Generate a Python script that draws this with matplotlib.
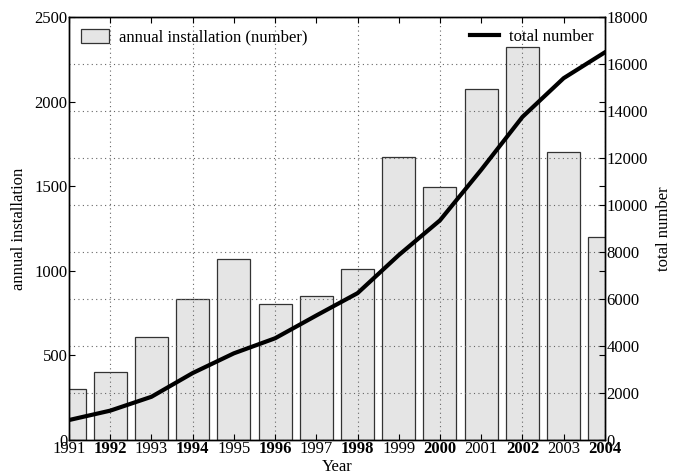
import numpy as np
import matplotlib
matplotlib.use("Agg")
import matplotlib.pyplot as plt

plt.rcParams["font.family"] = ["Liberation Serif", "DejaVu Serif"]
plt.rcParams["font.size"] = 12

years = np.arange(1991, 2005)
annual = [300, 400, 610, 835, 1070, 805, 850, 1010, 1675, 1495, 2075, 2325, 1700, 1200]
total = [850, 1250, 1840, 2850, 3690, 4330, 5300, 6250, 7870, 9350, 11500, 13750, 15400, 16500]

fig = plt.figure(figsize=(6.8, 4.76), dpi=100)
ax = fig.add_axes([0.1015, 0.0756, 0.788, 0.8885])
ax2 = ax.twinx()

ax.bar(years, annual, width=0.8, color="#e5e5e5", edgecolor="#333333",
       linewidth=0.9, label="annual installation (number)")
ax2.plot(years, total, color="black", lw=3, label="total number")

ax.set_xlim(1991, 2004)
ax.set_ylim(0, 2500)
ax2.set_ylim(0, 18000)
ax.set_yticks(np.arange(0, 2501, 500))
ax2.set_yticks(np.arange(0, 18001, 2000))

even = years[years % 2 == 0]
odd = years[years % 2 == 1]
ax.set_xticks(even)
ax.set_xticklabels([str(y) for y in even], fontweight="bold")
ax.set_xticks(odd, minor=True)
ax.set_xticklabels([str(y) for y in odd], minor=True)

ax.tick_params(axis="both", which="both", direction="in", length=4, width=0.8,
               top=True, right=True, labelright=False, pad=1)
ax2.tick_params(axis="y", direction="in", length=4, width=0.8, pad=1)

dots = (0, (1, 3))
ax.set_axisbelow(False)
ax.grid(axis="x", which="major", linestyle=dots, color="#666666", lw=0.8)
ax2.grid(axis="y", linestyle=dots, color="#666666", lw=0.8)

for a in (ax, ax2):
    for s in a.spines.values():
        s.set_linewidth(1.0)

ax.set_xlabel("Year", labelpad=1)
ax.set_ylabel("annual installation", labelpad=5)
ax2.set_ylabel("total number", labelpad=6)

ax.legend(loc="upper left", frameon=False, handlelength=1.7, handleheight=0.9,
          borderaxespad=0.3, handletextpad=0.6)
ax2.legend(loc="upper right", frameon=False, handlelength=1.7,
           borderaxespad=0.3, handletextpad=0.6)

fig.savefig("out.png", dpi=100)
